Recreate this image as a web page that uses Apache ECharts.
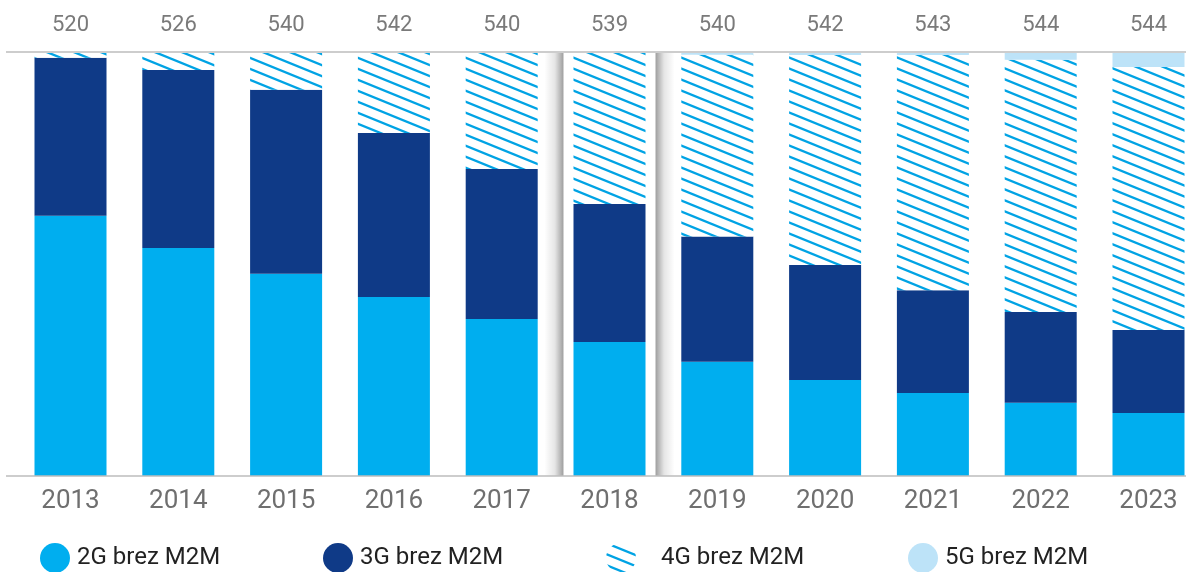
<!DOCTYPE html>
<html>
<head>
<meta charset="utf-8">
<script src="https://cdn.jsdelivr.net/npm/echarts@6/dist/echarts.min.js"></script>
<style>
  html, body { margin: 0; padding: 0; background: #ffffff; }
  #chart { width: 1186px; height: 572px; }
</style>
</head>
<body>
<div id="chart"></div>
<script>
// Years on the category axis and the subscriber totals printed above each column
const years  = ['2013', '2014', '2015', '2016', '2017', '2018', '2019', '2020', '2021', '2022', '2023'];
const totals = ['520', '526', '540', '542', '540', '539', '540', '542', '543', '544', '544'];

// Share of each technology in the total (percent, each column sums to 100)
const share2G = [61.5, 53.9, 47.8, 42.3, 37.1, 31.7, 27.0, 22.7, 19.6, 17.3, 14.9];
const share3G = [37.4, 42.1, 43.5, 38.8, 35.5, 32.6, 29.6, 27.2, 24.3, 21.5, 19.6];
const share4G = [ 1.1,  4.0,  8.7, 18.9, 27.4, 35.7, 43.0, 49.6, 55.6, 59.6, 62.2];
const share5G = [ 0.0,  0.0,  0.0,  0.0,  0.0,  0.0,  0.4,  0.5,  0.5,  1.6,  3.3];

// Column that is lifted off the page with a soft side shadow
const highlightYear = '2018';

const C2G = '#00aeef';
const C3G = '#0f3a87';
const C4G = '#00a3e4';
const C5G = '#bde3f8';
const FONT = 'Roboto, "Noto Sans", sans-serif';

// Diagonal hatch tile for the 4G segments (lines falling to the right)
function hatchPattern() {
  const w = 27, h = 11;
  const cv = document.createElement('canvas');
  cv.width = w; cv.height = h;
  const ctx = cv.getContext('2d');
  ctx.fillStyle = '#ffffff';
  ctx.fillRect(0, 0, w, h);
  ctx.strokeStyle = C4G;
  ctx.lineWidth = 2.3;
  for (let k = -1; k <= 1; k++) {
    ctx.beginPath();
    ctx.moveTo(-w, k * h - h);
    ctx.lineTo(2 * w, k * h + 2 * h);
    ctx.stroke();
  }
  return { image: cv, repeat: 'repeat' };
}
const hatch = hatchPattern();

const chart = echarts.init(document.getElementById('chart'), null, { renderer: 'canvas' });

const legendBase = {
  orient: 'horizontal',
  top: 538,
  itemWidth: 30,
  itemHeight: 30,
  selectedMode: false,
  textStyle: { fontSize: 24, color: '#222222', fontFamily: FONT, padding: [0, 0, 0, 2] }
};

const barBase = {
  type: 'bar',
  stack: 'share',
  barWidth: 72,
  xAxisIndex: 0,
  yAxisIndex: 0,
  emphasis: { disabled: true },
  z: 3
};

chart.setOption({
  animation: false,
  backgroundColor: '#ffffff',
  // the last column band runs slightly past the right edge of the page
  grid: { left: 16.6, top: 53, width: 1185.8, height: 423, outerBoundsMode: 'none' },
  xAxis: [
    {
      type: 'category',
      data: years,
      position: 'bottom',
      axisLine: { show: false },
      axisTick: { show: false },
      axisLabel: { fontSize: 26, color: '#6f6f6f', fontFamily: FONT, margin: 12 }
    },
    {
      type: 'category',
      data: totals,
      position: 'top',
      axisLine: { show: false },
      axisTick: { show: false },
      axisLabel: { fontSize: 22, color: '#7a7a7a', fontFamily: FONT, margin: 17 }
    }
  ],
  yAxis: { type: 'value', min: 0, max: 100, show: false, splitLine: { show: false } },
  legend: [
    Object.assign({}, legendBase, { left: 35,  data: [{ name: '2G brez M2M', icon: 'circle' }] }),
    Object.assign({}, legendBase, { left: 318, data: [{ name: '3G brez M2M', icon: 'circle' }] }),
    Object.assign({}, legendBase, { left: 601, data: [{ name: '4G brez M2M', icon: 'circle' }],
      textStyle: Object.assign({}, legendBase.textStyle, { padding: [0, 0, 0, 20] }) }),
    Object.assign({}, legendBase, { left: 903, data: [{ name: '5G brez M2M', icon: 'circle' }] })
  ],
  series: [
    Object.assign({}, barBase, { name: '2G brez M2M', data: share2G, itemStyle: { color: C2G } }),
    Object.assign({}, barBase, { name: '3G brez M2M', data: share3G, itemStyle: { color: C3G } }),
    Object.assign({}, barBase, { name: '4G brez M2M', data: share4G, itemStyle: { color: hatch } }),
    Object.assign({}, barBase, { name: '5G brez M2M', data: share5G, itemStyle: { color: C5G } }),
    {
      // soft shadows on both outer sides of the highlighted column
      type: 'custom',
      name: 'highlight',
      xAxisIndex: 0,
      yAxisIndex: 0,
      silent: true,
      z: 1,
      encode: { x: 0, y: 1 },
      data: [[years.indexOf(highlightYear), 100]],
      renderItem: function (params, api) {
        const base = api.coord([api.value(0), 0]);
        const top = api.coord([api.value(0), api.value(1)]);
        const band = api.size([1, 0])[0];
        const half = band * 0.427;
        const sw = 19;
        const y0 = top[1];
        const h = base[1] - top[1];
        const stops = function (rev) {
          const s = [
            { offset: 0, color: 'rgba(0,0,0,0)' },
            { offset: 0.55, color: 'rgba(0,0,0,0.10)' },
            { offset: 1, color: 'rgba(0,0,0,0.38)' }
          ];
          return rev ? s.map(function (o) { return { offset: 1 - o.offset, color: o.color }; }).reverse() : s;
        };
        return {
          type: 'group',
          children: [
            {
              type: 'rect',
              shape: { x: base[0] - half - sw, y: y0, width: sw, height: h },
              style: { fill: new echarts.graphic.LinearGradient(0, 0, 1, 0, stops(false)) }
            },
            {
              type: 'rect',
              shape: { x: base[0] + half, y: y0, width: sw, height: h },
              style: { fill: new echarts.graphic.LinearGradient(0, 0, 1, 0, stops(true)) }
            }
          ]
        };
      }
    }
  ]
});

// Thin rules above and below the plotting area, running across the full width
const yTop = chart.convertToPixel({ yAxisIndex: 0 }, 100);
const yBottom = chart.convertToPixel({ yAxisIndex: 0 }, 0);
chart.setOption({
  graphic: [
    { type: 'line', z: 10, shape: { x1: 6, y1: yTop - 1, x2: 1186, y2: yTop - 1 },
      style: { stroke: '#bcbcbc', lineWidth: 1.5 } },
    { type: 'line', z: 10, shape: { x1: 6, y1: yBottom, x2: 1186, y2: yBottom },
      style: { stroke: '#bcbcbc', lineWidth: 1.5 } }
  ]
});
</script>
</body>
</html>
